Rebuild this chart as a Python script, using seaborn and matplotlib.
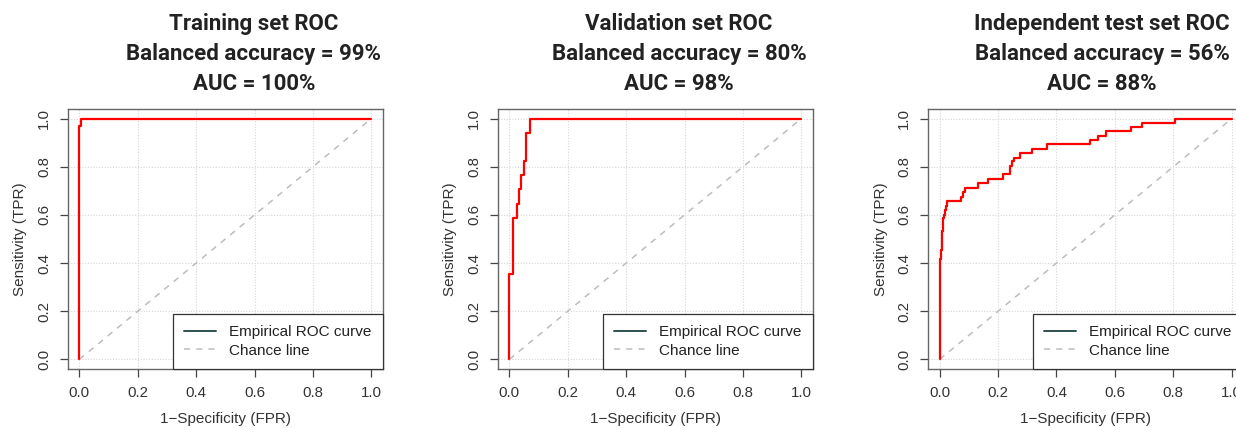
import numpy as np
import pandas as pd
import seaborn as sns
import matplotlib.pyplot as plt
from matplotlib.lines import Line2D

# ROC vertices (fpr, tpr), drawn as a post-step curve
train_fpr = [0.0, 0.0, 0.004, 1.0]
train_tpr = [0.0, 0.968, 1.0, 1.0]

valid_fpr = [0.0, 0.0, 0.0125, 0.026, 0.033, 0.041, 0.049, 0.057, 0.069, 1.0]
valid_tpr = [0.0, 0.353, 0.588, 0.647, 0.706, 0.765, 0.824, 0.941, 1.0, 1.0]

test_fpr = [0.0, 0.001, 0.004, 0.008, 0.012, 0.015, 0.018, 0.022, 0.026, 0.073,
            0.080, 0.088, 0.132, 0.167, 0.218, 0.241, 0.247, 0.253, 0.275, 0.315,
            0.366, 0.515, 0.541, 0.570, 0.657, 0.692, 0.806, 1.0]
test_tpr = [0.0, 0.415, 0.456, 0.532, 0.589, 0.600, 0.622, 0.639, 0.657, 0.675,
            0.694, 0.712, 0.732, 0.750, 0.768, 0.805, 0.822, 0.837, 0.856, 0.875,
            0.895, 0.913, 0.929, 0.947, 0.965, 0.982, 1.0, 1.0]

chance_x = [0, 1]
chance_y = [0, 1]

set_names = ["Training set ROC", "Validation set ROC", "Independent test set ROC"]
bal_acc = [99, 80, 56]
auc = [100, 98, 88]
ticks = [0.0, 0.2, 0.4, 0.6, 0.8, 1.0]
tick_labels = ["0.0", "0.2", "0.4", "0.6", "0.8", "1.0"]

curves = [(train_fpr, train_tpr), (valid_fpr, valid_tpr), (test_fpr, test_tpr)]

sns.set_theme(style="white")
plt.rcParams["font.family"] = ["Liberation Sans", "DejaVu Sans"]

fig = plt.figure(figsize=(12.36, 4.28), dpi=100)
W, H = 1236, 428
ax_left = [67.7, 497.7, 928]
title_cx = [254, 679, 1102]
ax_w, ax_top, ax_bot = 315.3, 109, 369

for i, (fpr, tpr) in enumerate(curves):
    ax = fig.add_axes([ax_left[i] / W, (H - ax_bot) / H, ax_w / W, (ax_bot - ax_top) / H])
    df = pd.DataFrame({"fpr": fpr, "tpr": tpr})
    for t in ticks:
        ax.axvline(t, color="#d6d6d6", lw=0.8, ls=(0, (1, 1.5)), zorder=0)
        ax.axhline(t, color="#d6d6d6", lw=0.8, ls=(0, (1, 1.5)), zorder=0)
    sns.lineplot(x=chance_x, y=chance_y, ax=ax, color="#bdbdbd", lw=1.1,
                 linestyle=(0, (4, 4)), legend=False)
    sns.lineplot(data=df, x="fpr", y="tpr", ax=ax, sort=False, estimator=None,
                 drawstyle="steps-post", color="red", lw=1.6, legend=False)
    ax.set_xlim(-0.04, 1.04)
    ax.set_ylim(-0.04, 1.04)
    ax.set_xticks(ticks)
    ax.set_xticklabels(tick_labels)
    ax.set_yticks(ticks)
    ax.set_yticklabels(tick_labels, rotation=90, va="center")
    ax.tick_params(axis="both", direction="out", length=6, width=0.9,
                   color="#444444", labelsize=10.8, labelcolor="#333333", pad=6,
                   bottom=True, left=True)
    for s in ax.spines.values():
        s.set_color("#666666")
        s.set_linewidth(1.0)
    ax.set_xlabel("1\u2212Specificity (FPR)", fontsize=11, color="#333333", labelpad=9)
    ax.set_ylabel("Sensitivity (TPR)", fontsize=11, color="#333333", labelpad=7)

    handles = [Line2D([0], [0], color="#2f4f4f", lw=1.4),
               Line2D([0], [0], color="#bdbdbd", lw=1.1, ls=(0, (4, 4)))]
    leg = ax.legend(handles, ["Empirical ROC curve", "Chance line"], loc="lower right",
                    borderaxespad=0, fancybox=False, framealpha=1, fontsize=11,
                    handlelength=2.1, handletextpad=0.85, labelspacing=0.3,
                    borderpad=0.75)
    leg.get_frame().set_edgecolor("#333333")
    leg.get_frame().set_linewidth(0.9)
    for t in leg.get_texts():
        t.set_color("#222222")

    fig.text(title_cx[i] / W, 1 - 13 / H,
             f"{set_names[i]}\nBalanced accuracy = {bal_acc[i]}%\nAUC = {auc[i]}%",
             ha="center", va="top", fontsize=16, fontweight="bold",
             family=["Roboto", "DejaVu Sans"], color="#222222", linespacing=1.48)

plt.savefig("out.png", dpi=100)
